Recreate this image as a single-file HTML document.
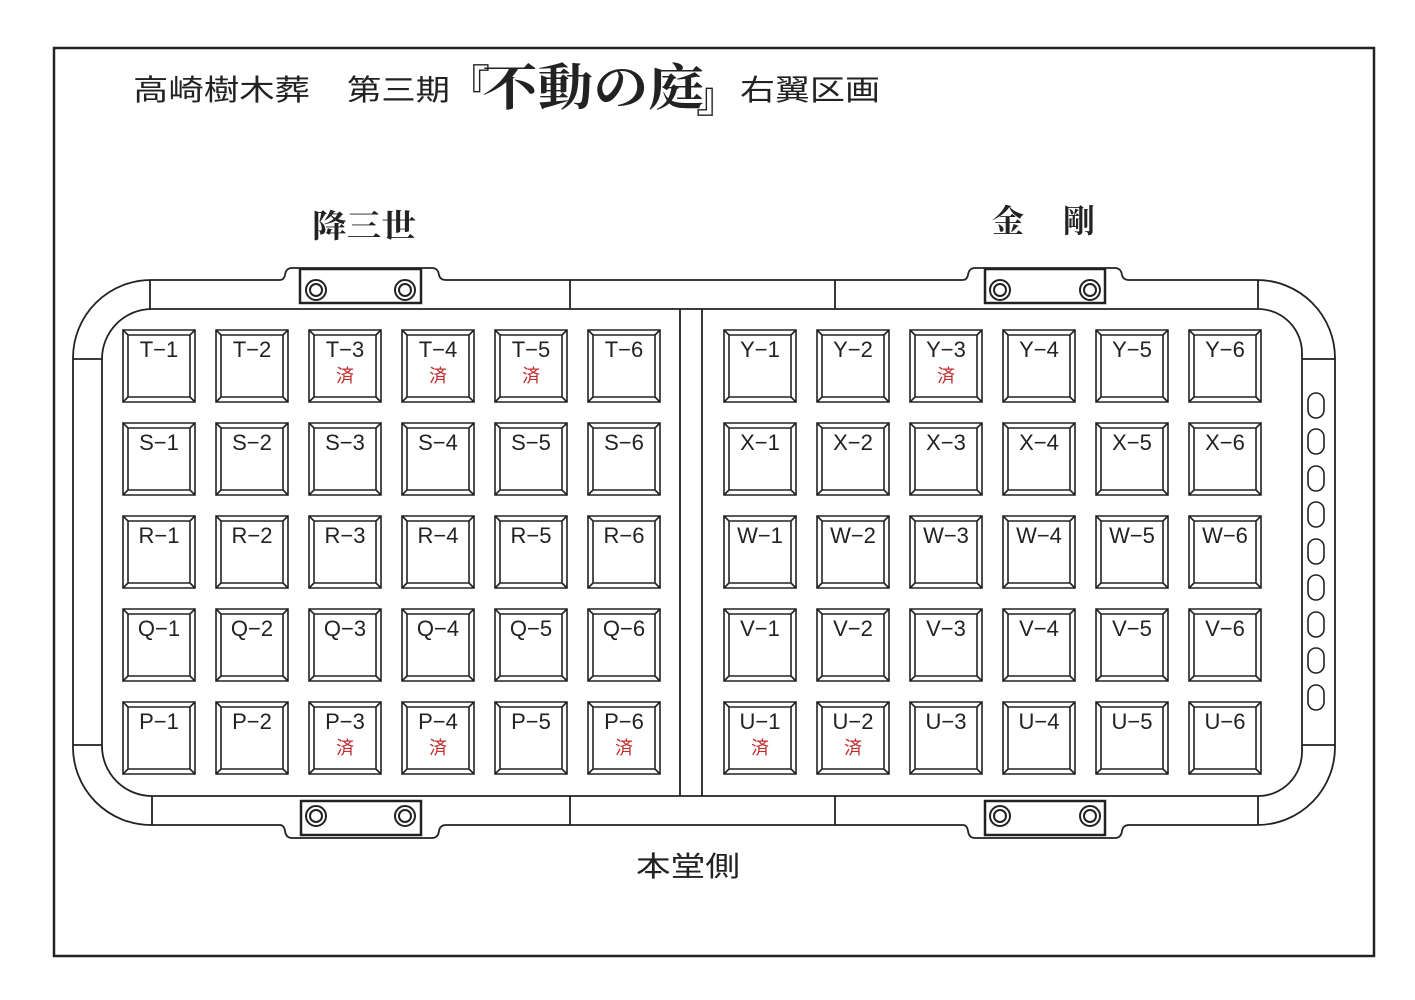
<!DOCTYPE html>
<html><head><meta charset="utf-8"><style>
html,body{margin:0;padding:0;background:#fff;}
svg{display:block;}
text{font-family:"Liberation Sans","Noto Sans CJK JP",sans-serif;fill:#222;}
.lb{font-size:22px;}
.dn{font-size:18px;fill:#c03030;}
</style></head><body>
<svg width="1415" height="1000" viewBox="0 0 1415 1000" xmlns="http://www.w3.org/2000/svg">
<rect x="54" y="48" width="1320" height="908" fill="none" stroke="#222" stroke-width="2.5"/>
<text x="133" y="100" font-size="29" textLength="177" lengthAdjust="spacingAndGlyphs">高崎樹木葬</text>
<text x="347" y="100" font-size="29" textLength="103" lengthAdjust="spacingAndGlyphs">第三期</text>
<text x="448" y="100" font-size="42">『</text>
<text x="482" y="105" font-size="50" style="font-family:'Noto Serif CJK SC',serif;font-weight:bold" textLength="222" lengthAdjust="spacingAndGlyphs">不動の庭</text>
<text x="696" y="112" font-size="42">』</text>
<text x="740" y="100" font-size="29" textLength="140" lengthAdjust="spacingAndGlyphs">右翼区画</text>
<text x="312" y="237" font-size="32" style="font-family:'Noto Serif CJK SC',serif;font-weight:bold" textLength="104" lengthAdjust="spacingAndGlyphs">降三世</text>
<text x="992" y="232" font-size="32" style="font-family:'Noto Serif CJK SC',serif;font-weight:bold">金</text>
<text x="1063" y="232" font-size="32" style="font-family:'Noto Serif CJK SC',serif;font-weight:bold">剛</text>
<text x="636" y="876" font-size="28" textLength="104" lengthAdjust="spacingAndGlyphs">本堂側</text>
<g fill="none" stroke="#222" stroke-width="1.8">
<path d="M152,280 H280 Q284,280 285,275 Q286,268 292,268 H432 Q438,268 439,275 Q440,280 446,280 H963 Q967,280 968,275 Q969,268 975,268 H1115 Q1121,268 1122,275 Q1123,280 1129,280 H1257 A78,78 0 0 1 1335,358 V745 A78,78 0 0 1 1257,825 H1129 Q1123,825 1122,831 Q1121,838 1115,838 H975 Q969,838 968,831 Q967,825 963,825 H446 Q440,825 439,831 Q438,838 432,838 H292 Q286,838 285,831 Q284,825 280,825 H152 A78,78 0 0 1 73,745 V358 A78,78 0 0 1 152,280 Z"/>
<path d="M152,309 H1258 A44,44 0 0 1 1302,353 V752 A44,44 0 0 1 1258,796 H152 A50,50 0 0 1 102,746 V359 A50,50 0 0 1 152,309 Z"/>
<path d="M150,280 V309 M73,359 H102 M1258,280 V309 M1302,359 H1335 M570,280 V309 M835,280 V309 M570,796 V825 M835,796 V825 M152,796 V825 M1258,796 V825 M73,745 H102 M1302,745 H1335"/>
<path d="M680,309 V796 M702,309 V796"/>
<rect x="300" y="269" width="121" height="34" stroke-width="2.5"/>
<rect x="985" y="269" width="120" height="34" stroke-width="2.5"/>
<rect x="301" y="801" width="120" height="34" stroke-width="2.5"/>
<rect x="985" y="801" width="120" height="34" stroke-width="2.5"/>
<g stroke-width="2">
<circle cx="316" cy="290" r="10"/><circle cx="316" cy="290" r="6"/>
<circle cx="405" cy="290" r="10"/><circle cx="405" cy="290" r="6"/>
<circle cx="1000" cy="290" r="10"/><circle cx="1000" cy="290" r="6"/>
<circle cx="1090" cy="290" r="10"/><circle cx="1090" cy="290" r="6"/>
<circle cx="316" cy="816" r="10"/><circle cx="316" cy="816" r="6"/>
<circle cx="405" cy="816" r="10"/><circle cx="405" cy="816" r="6"/>
<circle cx="1000" cy="816" r="10"/><circle cx="1000" cy="816" r="6"/>
<circle cx="1090" cy="816" r="10"/><circle cx="1090" cy="816" r="6"/>
</g>
<g stroke-width="1.6">
<rect x="1308" y="393" width="16" height="25" rx="8"/>
<rect x="1308" y="429" width="16" height="25" rx="8"/>
<rect x="1308" y="466" width="16" height="25" rx="8"/>
<rect x="1308" y="502" width="16" height="25" rx="8"/>
<rect x="1308" y="539" width="16" height="25" rx="8"/>
<rect x="1308" y="575" width="16" height="25" rx="8"/>
<rect x="1308" y="612" width="16" height="25" rx="8"/>
<rect x="1308" y="648" width="16" height="25" rx="8"/>
<rect x="1308" y="685" width="16" height="25" rx="8"/>
</g>
</g>
<g id="cells"></g>
</svg>
<script>
(function(){
var g=document.getElementById('cells');
var ns='http://www.w3.org/2000/svg';
var L=[123,216,309,402,495,588],R=[724,817,910,1003,1096,1189],Y=[330,423,516,609,702];
var rl=['T','S','R','Q','P'],rr=['Y','X','W','V','U'];
var done={'T-3':1,'T-4':1,'T-5':1,'Y-3':1,'P-3':1,'P-4':1,'P-6':1,'U-1':1,'U-2':1};
function cell(x,y,lab){
 var w=72,h=72,i=5;
 var p=document.createElementNS(ns,'path');
 p.setAttribute('d','M'+x+','+y+'h'+w+'v'+h+'h'+(-w)+'z M'+(x+i)+','+(y+i)+'h'+(w-2*i)+'v'+(h-2*i)+'h'+(-(w-2*i))+'z M'+x+','+y+'l'+i+','+i+' M'+(x+w)+','+y+'l'+(-i)+','+i+' M'+x+','+(y+h)+'l'+i+','+(-i)+' M'+(x+w)+','+(y+h)+'l'+(-i)+','+(-i));
 p.setAttribute('fill','none');p.setAttribute('stroke','#222');p.setAttribute('stroke-width','1.6');
 g.appendChild(p);
 var t=document.createElementNS(ns,'text');
 t.setAttribute('x',x+w/2);t.setAttribute('y',y+27);t.setAttribute('text-anchor','middle');t.setAttribute('class','lb');
 t.textContent=lab.replace('-','−');g.appendChild(t);
 if(done[lab]){var d=document.createElementNS(ns,'text');d.setAttribute('x',x+w/2);d.setAttribute('y',y+52);d.setAttribute('text-anchor','middle');d.setAttribute('class','dn');d.textContent='済';g.appendChild(d);}
}
for(var r=0;r<5;r++)for(var c=0;c<6;c++){cell(L[c],Y[r],rl[r]+'-'+(c+1));cell(R[c],Y[r],rr[r]+'-'+(c+1));}
})();
</script>
</body></html>
